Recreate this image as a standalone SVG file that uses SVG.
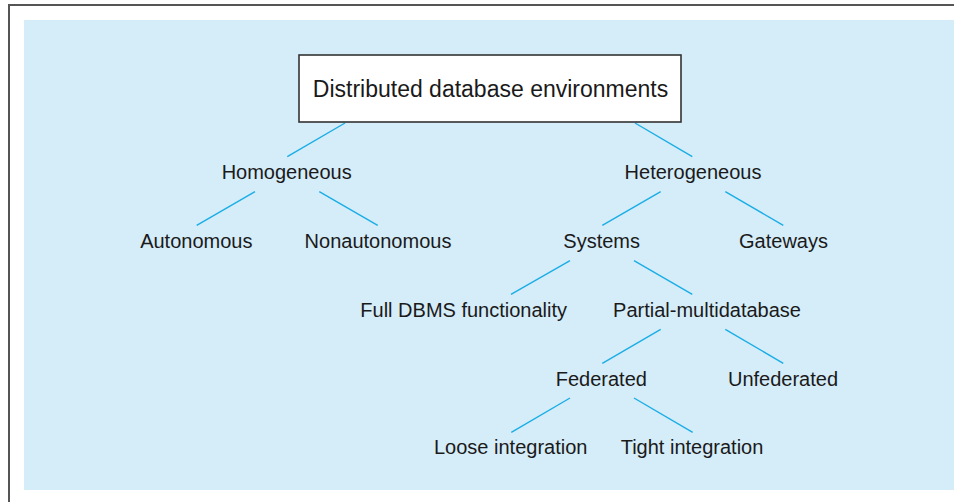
<svg xmlns="http://www.w3.org/2000/svg" width="954" height="502" viewBox="0 0 954 502">
<style>
.lbl{font-family:"Liberation Sans",Arial,sans-serif;font-size:20px;fill:#1a1a1a;text-anchor:middle}
.title{font-size:23px}
.conn line{stroke:#1aaee6;stroke-width:1.4;fill:none}
</style>
<rect x="0" y="0" width="954" height="502" fill="#ffffff"/>
<line x1="8" y1="5" x2="954" y2="5" stroke="#555555" stroke-width="2"/>
<line x1="9" y1="4" x2="9" y2="502" stroke="#555555" stroke-width="2"/>
<rect x="24" y="20" width="930" height="470" fill="#d5ecf9"/>
<g id="connectors" class="conn">
<line x1="345" y1="123" x2="287.3" y2="156.7"/>
<line x1="635" y1="123" x2="692.3" y2="156.7"/>
<line x1="255" y1="191.7" x2="196.7" y2="225.3"/>
<line x1="319.3" y1="191.7" x2="377.7" y2="225.3"/>
<line x1="660.7" y1="191.7" x2="602.3" y2="225.3"/>
<line x1="725.3" y1="191.7" x2="783.3" y2="225.3"/>
<line x1="570" y1="260.7" x2="511" y2="294.3"/>
<line x1="634" y1="260.7" x2="692.3" y2="294.3"/>
<line x1="660.7" y1="329.3" x2="602.3" y2="363.3"/>
<line x1="725.3" y1="329.3" x2="783.3" y2="363.3"/>
<line x1="570" y1="398" x2="511.3" y2="432.3"/>
<line x1="634" y1="398" x2="692.7" y2="432.3"/>
</g>
<g id="root">
<rect x="299" y="55" width="382" height="67" fill="#ffffff" stroke="#333333" stroke-width="1.6"/>
<text class="lbl title" x="490.5" y="97">Distributed database environments</text>
</g>
<g id="homogeneous"><text class="lbl" x="286.7" y="179">Homogeneous</text></g>
<g id="heterogeneous"><text class="lbl" x="693" y="179">Heterogeneous</text></g>
<g id="autonomous"><text class="lbl" x="196.3" y="248">Autonomous</text></g>
<g id="nonautonomous"><text class="lbl" x="378" y="248">Nonautonomous</text></g>
<g id="systems"><text class="lbl" x="601.7" y="248">Systems</text></g>
<g id="gateways"><text class="lbl" x="783.5" y="248">Gateways</text></g>
<g id="full-dbms"><text class="lbl" x="463.7" y="317">Full DBMS functionality</text></g>
<g id="partial"><text class="lbl" x="707" y="317">Partial-multidatabase</text></g>
<g id="federated"><text class="lbl" x="601.3" y="386">Federated</text></g>
<g id="unfederated"><text class="lbl" x="783" y="386">Unfederated</text></g>
<g id="loose"><text class="lbl" x="510.7" y="454.3">Loose integration</text></g>
<g id="tight"><text class="lbl" x="692" y="454.3">Tight integration</text></g>
</svg>
